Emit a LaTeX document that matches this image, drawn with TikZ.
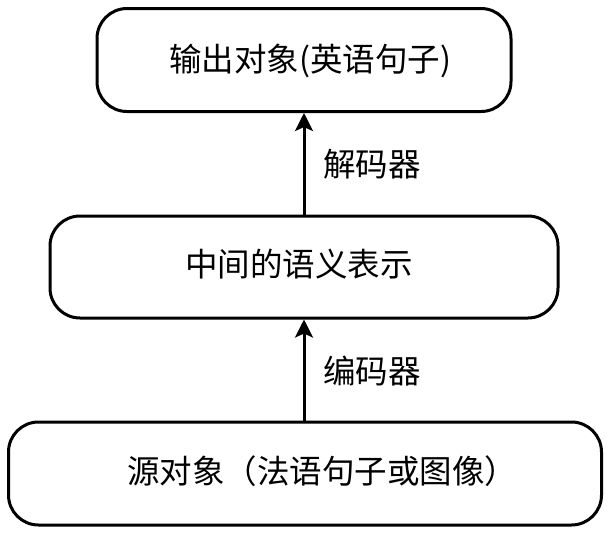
\documentclass[tikz,border=0pt]{standalone}
\usepackage{fontspec}
\setmainfont{Liberation Serif}
\newfontfamily\cjk{Noto Sans CJK SC}
\usetikzlibrary{arrows.meta}
\begin{document}
\begin{tikzpicture}[x=1pt,y=-1pt,
  box/.style={draw=black,line width=3pt,rounded corners=30pt,inner sep=0pt},
  txt/.style={font=\cjk\fontsize{32.5}{36}\selectfont,inner sep=0pt},
  arr/.style={line width=3pt,-{Stealth[length=18pt,width=18pt,inset=4pt]}}]
\useasboundingbox (0,0) rectangle (608,536);
\node[box,minimum width=414pt,minimum height=103pt] (out) at (304,60) {};
\node[box,minimum width=508pt,minimum height=102pt] (mid) at (304,267) {};
\node[box,minimum width=593pt,minimum height=103pt] (src) at (305,473.5) {};
\node[txt] (outt) at (310,61) {输出对象(英语句子)};
\node[txt] (midt) at (299,264) {中间的语义表示};
\node[txt] (srct) at (322,471) {源对象（法语句子或图像）};
\draw[arr] (src.north -| 304,0) -- (mid.south -| 304,0);
\draw[arr] (mid.north -| 304,0) -- (out.south -| 304,0);
\node[txt] (dec) at (372,164) {解码器};
\node[txt] (enc) at (372,371) {编码器};
\end{tikzpicture}
\end{document}
